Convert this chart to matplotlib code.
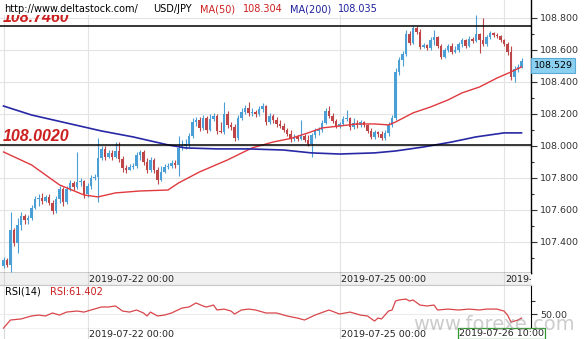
import matplotlib
matplotlib.use("Agg")
import matplotlib.pyplot as plt
import matplotlib.transforms as mtransforms
from matplotlib.patches import Rectangle
import numpy as np

# ---------------- data ----------------
opens = [
    107.248, 107.286, 107.255, 107.473, 107.392, 107.505, 107.561, 107.536, 107.548, 107.611,
    107.667, 107.673, 107.655, 107.680, 107.642, 107.592, 107.667, 107.730, 107.648, 107.730,
    107.767, 107.742, 107.773, 107.780, 107.698, 107.748, 107.798, 107.805, 107.923, 107.980,
    107.930, 107.955, 107.930, 107.967, 107.917, 107.861, 107.848, 107.867, 107.873, 107.942,
    107.961, 107.898, 107.848, 107.911, 107.848, 107.786, 107.836, 107.867, 107.873, 107.892,
    107.880, 107.986, 107.998, 108.011, 108.061, 108.148, 108.161, 108.111, 108.173, 108.098,
    108.167, 108.186, 108.092, 108.086, 108.198, 108.130, 108.117, 108.048, 108.173, 108.211,
    108.236, 108.205, 108.211, 108.198, 108.230, 108.248, 108.148, 108.186, 108.161, 108.136,
    108.123, 108.098, 108.073, 108.042, 108.055, 108.042, 108.061, 108.036, 108.011, 108.067,
    108.092, 108.098, 108.142, 108.217, 108.186, 108.155, 108.123, 108.136, 108.167, 108.173,
    108.117, 108.142, 108.130, 108.148, 108.130, 108.092, 108.055, 108.086, 108.073, 108.048,
    108.080, 108.130, 108.173, 108.461, 108.536, 108.573, 108.698, 108.642, 108.736, 108.711,
    108.617, 108.630, 108.611, 108.661, 108.680, 108.623, 108.555, 108.598, 108.623, 108.586,
    108.598, 108.636, 108.661, 108.623, 108.667, 108.655, 108.698, 108.661, 108.636, 108.680,
    108.705, 108.692, 108.686, 108.661, 108.636, 108.586, 108.430, 108.480, 108.492]

closes = [
    107.286, 107.255, 107.473, 107.392, 107.505, 107.561, 107.536, 107.548, 107.611, 107.667,
    107.673, 107.655, 107.680, 107.642, 107.592, 107.667, 107.730, 107.648, 107.730, 107.767,
    107.742, 107.773, 107.780, 107.698, 107.748, 107.798, 107.805, 107.923, 107.980, 107.930,
    107.955, 107.930, 107.967, 107.917, 107.861, 107.848, 107.867, 107.873, 107.942, 107.961,
    107.898, 107.848, 107.911, 107.848, 107.786, 107.836, 107.867, 107.873, 107.892, 107.880,
    107.986, 107.998, 108.011, 108.061, 108.148, 108.161, 108.111, 108.173, 108.098, 108.167,
    108.186, 108.092, 108.086, 108.198, 108.130, 108.117, 108.048, 108.173, 108.211, 108.236,
    108.205, 108.211, 108.198, 108.230, 108.248, 108.148, 108.186, 108.161, 108.136, 108.123,
    108.098, 108.073, 108.042, 108.055, 108.042, 108.061, 108.036, 108.011, 108.067, 108.092,
    108.098, 108.142, 108.217, 108.186, 108.155, 108.123, 108.136, 108.167, 108.173, 108.117,
    108.142, 108.130, 108.148, 108.130, 108.092, 108.055, 108.086, 108.073, 108.048, 108.080,
    108.130, 108.173, 108.461, 108.536, 108.573, 108.698, 108.642, 108.736, 108.711, 108.617,
    108.630, 108.611, 108.661, 108.680, 108.623, 108.555, 108.598, 108.623, 108.586, 108.598,
    108.636, 108.661, 108.623, 108.667, 108.655, 108.698, 108.661, 108.636, 108.680, 108.705,
    108.692, 108.686, 108.661, 108.636, 108.586, 108.430, 108.480, 108.492, 108.529]

highs = [
    107.305, 107.298, 107.586, 107.486, 107.548, 107.586, 107.573, 107.567, 107.630, 107.686,
    107.698, 107.705, 107.692, 107.698, 107.661, 107.686, 107.748, 107.742, 107.748, 107.786,
    107.780, 107.961, 107.798, 107.786, 107.767, 107.817, 107.823, 108.048, 107.998, 107.998,
    107.973, 107.973, 108.023, 108.023, 107.936, 107.880, 107.886, 107.892, 107.961, 107.973,
    107.973, 107.923, 107.930, 107.923, 107.867, 107.873, 107.886, 107.892, 107.911, 107.911,
    108.061, 108.036, 108.042, 108.080, 108.173, 108.180, 108.180, 108.192, 108.186, 108.198,
    108.205, 108.198, 108.148, 108.273, 108.217, 108.148, 108.136, 108.192, 108.236, 108.255,
    108.273, 108.236, 108.223, 108.248, 108.267, 108.255, 108.205, 108.198, 108.180, 108.161,
    108.142, 108.111, 108.098, 108.073, 108.067, 108.161, 108.073, 108.067, 108.080, 108.111,
    108.117, 108.161, 108.236, 108.248, 108.205, 108.167, 108.148, 108.186, 108.223, 108.180,
    108.173, 108.161, 108.161, 108.155, 108.136, 108.111, 108.098, 108.092, 108.092, 108.098,
    108.148, 108.192, 108.486, 108.555, 108.592, 108.723, 108.717, 108.748, 108.748, 108.729,
    108.642, 108.636, 108.680, 108.723, 108.686, 108.636, 108.611, 108.636, 108.642, 108.623,
    108.648, 108.673, 108.667, 108.686, 108.680, 108.817, 108.705, 108.798, 108.692, 108.717,
    108.711, 108.705, 108.692, 108.667, 108.648, 108.623, 108.498, 108.511, 108.548]

lows = [
    107.236, 107.242, 107.211, 107.373, 107.330, 107.473, 107.511, 107.511, 107.536, 107.605,
    107.623, 107.636, 107.648, 107.630, 107.573, 107.580, 107.642, 107.623, 107.636, 107.717,
    107.723, 107.730, 107.748, 107.673, 107.680, 107.730, 107.786, 107.648, 107.911, 107.911,
    107.923, 107.911, 107.923, 107.898, 107.836, 107.830, 107.848, 107.855, 107.861, 107.911,
    107.880, 107.830, 107.836, 107.830, 107.761, 107.780, 107.830, 107.855, 107.861, 107.861,
    107.811, 107.973, 107.980, 107.986, 108.048, 108.123, 108.092, 108.098, 108.080, 108.092,
    108.155, 108.073, 108.080, 108.073, 108.111, 108.098, 108.030, 108.036, 108.161, 108.198,
    108.186, 108.186, 108.180, 108.186, 108.211, 108.130, 108.136, 108.142, 108.117, 108.111,
    108.086, 108.061, 108.023, 108.030, 108.030, 108.036, 108.023, 107.998, 107.930, 108.048,
    108.067, 108.086, 108.136, 108.173, 108.142, 108.111, 108.111, 108.130, 108.155, 108.098,
    108.105, 108.111, 108.117, 108.117, 108.080, 108.042, 108.042, 108.055, 108.036, 108.036,
    108.061, 108.117, 108.161, 108.442, 108.498, 108.561, 108.630, 108.636, 108.698, 108.605,
    108.611, 108.598, 108.598, 108.630, 108.611, 108.542, 108.548, 108.586, 108.573, 108.580,
    108.586, 108.617, 108.611, 108.617, 108.642, 108.648, 108.580, 108.623, 108.623, 108.667,
    108.680, 108.673, 108.648, 108.623, 108.567, 108.411, 108.398, 108.461, 108.486]

ma50_idx = [0, 8, 16, 23, 27, 32, 39, 47, 50, 56, 64, 71, 77, 82, 87,
            91, 96, 101, 106, 110, 112, 117, 122, 127, 131, 136, 141, 145, 148]
ma50 = [107.961, 107.880, 107.755, 107.692, 107.680, 107.705, 107.717, 107.723,
        107.767, 107.836, 107.911, 107.986, 108.023, 108.045, 108.080, 108.111,
        108.123, 108.136, 108.136, 108.130, 108.148, 108.205, 108.242, 108.286,
        108.330, 108.367, 108.423, 108.461, 108.492]

ma200_idx = [0, 8, 18, 28, 37, 47, 52, 61, 70, 80, 88, 96, 106, 112, 120, 128, 135, 143, 148]
ma200 = [108.248, 108.192, 108.142, 108.092, 108.055, 108.005, 107.986, 107.980,
         107.980, 107.973, 107.955, 107.948, 107.955, 107.967, 107.992, 108.023,
         108.055, 108.080, 108.080]

rsi_idx = [0, 2, 5, 8, 10, 12, 14, 16, 18, 21,
           23, 25, 28, 30, 32, 34, 36, 38, 40, 41,
           42, 44, 46, 48, 51, 53, 55, 57, 58, 60,
           61, 63, 65, 66, 68, 70, 72, 75, 78, 81,
           84, 86, 89, 93, 96, 99, 102, 104, 106, 107,
           108, 110, 111, 112, 113, 115, 116, 117, 119, 121,
           123, 124, 127, 130, 133, 136, 138, 141, 143, 144,
           145, 146, 147, 148]
rsi = [39.2, 45.4, 46.2, 48.5, 49.2, 48.5, 50.8, 49.2, 51.5, 52.3,
       51.5, 53.1, 55.4, 55.4, 56.2, 52.3, 51.5, 53.1, 50.8, 48.5,
       51.5, 48.5, 49.2, 50.8, 54.6, 55.4, 58.5, 56.2, 55.4, 56.9,
       53.1, 53.8, 52.3, 50.0, 53.1, 53.8, 53.1, 50.8, 50.8, 48.5,
       46.9, 45.4, 49.2, 53.1, 50.0, 51.5, 49.2, 48.5, 44.6, 46.9,
       46.2, 52.3, 53.0, 60.0, 60.8, 61.5, 60.0, 60.8, 56.9, 56.2,
       56.9, 53.1, 53.8, 53.1, 53.8, 53.1, 53.8, 53.8, 52.3, 49.2,
       43.8, 44.6, 45.4, 46.9]

levels = [108.7460, 108.0020]
level_labels = ["108.7460", "108.0020"]
price_ticks = [107.4, 107.6, 107.8, 108.0, 108.2, 108.4, 108.6, 108.8]
date_tick_idx = [24, 96, 143]
date_labels_top = ["2019-07-22 00:00", "2019-07-25 00:00", "2019-"]
date_labels_bottom = ["2019-07-22 00:00", "2019-07-25 00:00"]
grid_idx = [0, 24, 96, 143]
header_ma50 = "108.304"
header_ma200 = "108.035"
header_rsi = "61.402"
last_price_label = "108.529"
cursor_label = "2019-07-26 10:00"

# ---------------- styling ----------------
BULL = "#4a9fd6"
BEAR = "#bf4648"
MA50_C = "#e0393e"
MA200_C = "#2828a6"
GRID = "#e3e3e3"
RED_TXT = "#cc1f1f"
BLUE_TXT = "#1f1f9e"
AXFS = 6.8

W, H = 586, 339
fig = plt.figure(figsize=(W / 100, H / 100), dpi=100)
fig.patch.set_facecolor("white")


def fx(x):
    return x / W


def fy(y):
    return 1 - y / H


def axes_px(x0, y0, x1, y1):
    return fig.add_axes([fx(x0), fy(y1), (x1 - x0) / W, (y1 - y0) / H])


XL = (-1.0, 150.71)

ax = axes_px(0, 0, 531, 273)
strip1 = axes_px(0, 273, 531, 285)
rax = axes_px(0, 285, 531, 329)
strip2 = axes_px(0, 329, 531, 339)

# ---------------- main price panel ----------------
o = np.array(opens)
c = np.array(closes)
hi = np.array(highs)
lo = np.array(lows)
idx = np.arange(len(c))
up = c >= o
cols = np.where(up, BULL, BEAR)

ax.vlines(idx, lo, hi, colors=cols, lw=0.8, zorder=3)
body_b = np.minimum(o, c)
body_h = np.maximum(np.abs(c - o), 0.003)
ax.bar(idx, body_h, bottom=body_b, width=0.72, color=cols, linewidth=0, zorder=4)

ax.plot(ma50_idx, ma50, color=MA50_C, lw=1.0, zorder=5)
ax.plot(ma200_idx, ma200, color=MA200_C, lw=1.2, zorder=5)

for lv, lab in zip(levels, level_labels):
    ax.axhline(lv, color="black", lw=1.1, zorder=6)
    ax.annotate(lab, xy=(0, lv), xycoords=("axes fraction", "data"),
                xytext=(3, 4.5), textcoords="offset pixels",
                ha="left", va="baseline", fontsize=11.5, fontweight="bold",
                fontstyle="italic", family="Liberation Sans", color=RED_TXT, zorder=7)

ax.set_xlim(*XL)
ax.set_ylim(107.2044, 108.9106)
ax.yaxis.tick_right()
ax.set_yticks(price_ticks)
ax.set_yticklabels([f"{t:.3f}" for t in price_ticks])
ax.set_yticks([t + 0.1 for t in price_ticks[:-1]] + [107.3], minor=True)
ax.tick_params(axis="y", which="major", length=4, width=0.8, colors="#333333",
               labelsize=AXFS, pad=2.5)
ax.tick_params(axis="y", which="minor", length=2.5, width=0.8, colors="#333333")
ax.set_xticks([])
ax.grid(axis="y", color=GRID, lw=0.8, zorder=0)
for g in grid_idx:
    ax.axvline(g, color=GRID, lw=0.8, zorder=0)
for s in ["left", "top"]:
    ax.spines[s].set_visible(False)
ax.spines["right"].set_color("black")
ax.spines["bottom"].set_color("black")
ax.spines["right"].set_linewidth(1.0)
ax.spines["bottom"].set_linewidth(1.0)
ax.set_axisbelow(True)

blend = mtransforms.blended_transform_factory(ax.transAxes, ax.transData)
ax.text(1.005, closes[-1], last_price_label, transform=blend, ha="left", va="top",
        fontsize=AXFS, color="black", clip_on=False, zorder=8,
        bbox=dict(boxstyle="square,pad=0.3", fc="#8bd0f0", ec="#5aaad6", lw=0.8))

# ---------------- header ----------------
fig.patches.append(Rectangle((0, fy(14.5)), fx(385), 14.5 / H, transform=fig.transFigure,
                             facecolor="white", edgecolor="none", zorder=5))
hy = fy(9)
fig.text(fx(4), hy, "http://www.deltastock.com/", fontsize=7, color="black", va="center", zorder=6)
fig.text(fx(153), hy, "USD/JPY", fontsize=7, color="black", va="center", zorder=6)
fig.text(fx(200), hy, "MA(50)", fontsize=7, color=RED_TXT, va="center", zorder=6)
fig.text(fx(243), hy, header_ma50, fontsize=7, color=RED_TXT, va="center", zorder=6)
fig.text(fx(290), hy, "MA(200)", fontsize=7, color=BLUE_TXT, va="center", zorder=6)
fig.text(fx(338), hy, header_ma200, fontsize=7, color=BLUE_TXT, va="center", zorder=6)

# ---------------- date strips ----------------
for st, bg, labs in [(strip1, "#f0f0f0", date_labels_top), (strip2, "white", date_labels_bottom)]:
    st.set_facecolor(bg)
    st.set_xlim(*XL)
    st.set_ylim(0, 1)
    st.set_xticks([])
    st.set_yticks([])
    for s in st.spines.values():
        s.set_visible(False)
    for g in grid_idx:
        st.axvline(g, color="#d8d8d8", lw=0.8)
    for p, lab in zip(date_tick_idx, labs):
        st.text(p + 0.3, 0.45, lab, fontsize=AXFS, color="#222222", ha="left",
                va="center", clip_on=True)
strip1.spines["bottom"].set_visible(True)
strip1.spines["bottom"].set_color("#bdbdbd")

# ---------------- RSI panel ----------------
rax.plot(rsi_idx, rsi, color="#d9464b", lw=0.9)
rax.set_xlim(*XL)
rax.set_ylim(38.5, 72.3)
rax.yaxis.tick_right()
rax.set_yticks([50])
rax.set_yticklabels(["50.00"])
rax.set_yticks([60], minor=True)
rax.tick_params(axis="y", which="major", length=4, width=0.8, colors="#333333",
                labelsize=AXFS, pad=2.5)
rax.tick_params(axis="y", which="minor", length=3, width=0.8, colors="#333333")
rax.set_xticks([])
for g in grid_idx:
    rax.axvline(g, color=GRID, lw=0.8, zorder=0)
rax.axhline(50, color="#ececec", lw=0.8, zorder=0)
rax.spines["left"].set_visible(False)
rax.spines["top"].set_color("#c8c8c8")
rax.spines["right"].set_color("black")
rax.spines["bottom"].set_color("black")

fig.text(fx(5), fy(292), "RSI(14)", fontsize=7, color="black", va="center", zorder=6)
fig.text(fx(50), fy(292), "RSI:" + header_rsi, fontsize=7, color=RED_TXT, va="center", zorder=6)

# cursor date label
fig.text(fx(459), fy(333.5), cursor_label, fontsize=AXFS, color="#222222", va="center",
         ha="left", zorder=9,
         bbox=dict(boxstyle="square,pad=0.12", fc="white", ec="#2e9a2e", lw=0.9))

# watermark
fig.text(fx(494), fy(325), "www.forexe.com", fontsize=14, color="#9a9a9a", alpha=0.5,
         ha="center", va="center", zorder=10)

fig.savefig("out.png", dpi=100, facecolor="white")
